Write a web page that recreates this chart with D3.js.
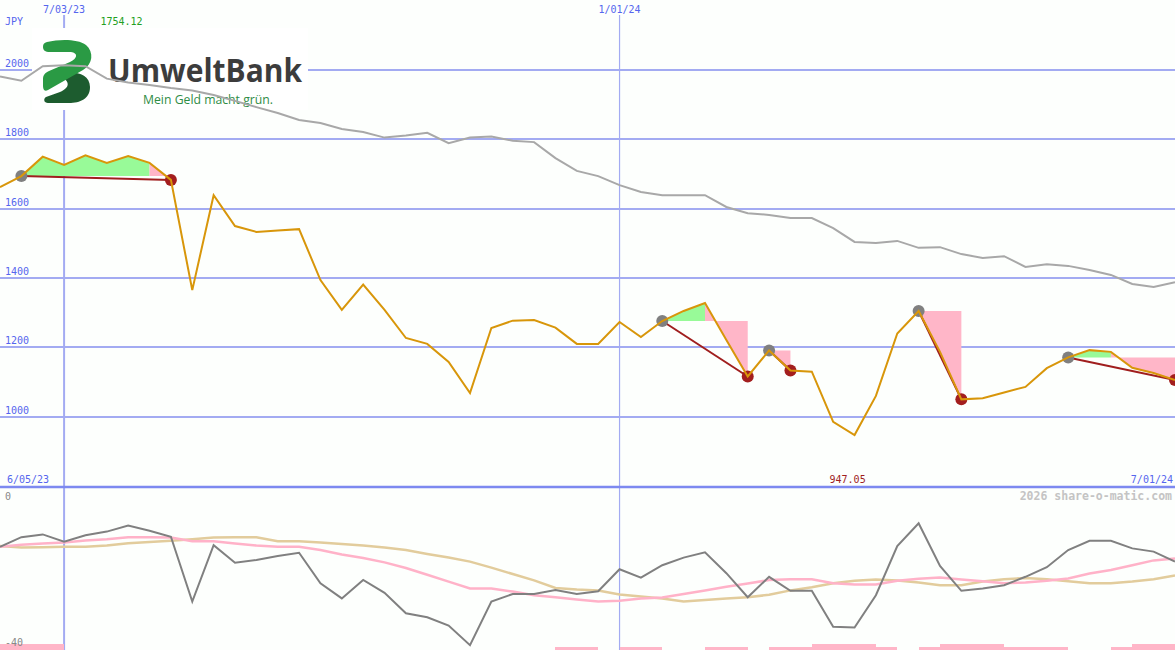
<!DOCTYPE html>
<html><head><meta charset="utf-8">
<script src="https://cdn.jsdelivr.net/npm/d3@7"></script>
<style>body{margin:0;background:#fdfffd;overflow:hidden} svg{display:block}</style>
</head><body><svg id="c" width="1175" height="650"></svg>
<script>
// ---------- data ----------
const dates = ["2023-06-12","2023-06-19","2023-06-26","2023-07-03","2023-07-10","2023-07-17","2023-07-24","2023-07-31","2023-08-07","2023-08-14",
"2023-08-21","2023-08-28","2023-09-04","2023-09-11","2023-09-18","2023-09-25","2023-10-02","2023-10-09","2023-10-16","2023-10-23",
"2023-10-30","2023-11-06","2023-11-13","2023-11-20","2023-11-27","2023-12-04","2023-12-11","2023-12-18","2023-12-25","2024-01-01",
"2024-01-08","2024-01-15","2024-01-22","2024-01-29","2024-02-05","2024-02-12","2024-02-19","2024-02-26","2024-03-04","2024-03-11",
"2024-03-18","2024-03-25","2024-04-01","2024-04-08","2024-04-15","2024-04-22","2024-04-29","2024-05-06","2024-05-13","2024-05-20",
"2024-05-27","2024-06-03","2024-06-10","2024-06-17","2024-06-24","2024-07-01"];
const rangeStartLabel = "2023-06-05";
const dateMarks = ["2023-07-03","2024-01-01"];
const priceTicks = [1000,1200,1400,1600,1800,2000];
const lowTicks = [0,-40];
const currency = "JPY";

const price = [1662,1694,1750,1726,1754.12,1732,1752,1732,1683,1365,
1639,1550,1533,1537,1541,1394,1308,1381,1308,1227,
1210,1158,1068,1256,1277,1279,1257,1210,1210,1273,
1230,1276,1305,1328,1221,1116,1191,1133,1130,985,
947.05,1060,1240,1305,1187,1050,1053,1070,1086,1140,
1171,1192,1187,1141,1126,1106];

const benchmark = [1981,1969,2011,2014,2011,1975,1964,1957,1948,1941,
1928,1911,1893,1876,1856,1847,1830,1821,1805,1811,
1819,1789,1805,1808,1796,1792,1746,1709,1694,1668,
1648,1639,1639,1639,1605,1587,1582,1573,1573,1544,
1504,1501,1507,1487,1489,1469,1458,1463,1432,1440,
1435,1423,1409,1383,1374,1388];

const momentum = [-14.7,-12.3,-11.6,-13.4,-11.8,-10.9,-9.4,-10.7,-12.2,-28.4,
-14.3,-18.7,-18,-17,-16.2,-23.8,-27.6,-23,-26.2,-31.3,
-32.3,-34.4,-39.3,-28.4,-26.5,-26.5,-25.5,-26.5,-25.8,-20.3,
-22.4,-19.3,-17.4,-16.1,-21.3,-27.3,-22.2,-25.7,-25.7,-34.7,
-34.9,-26.8,-14.5,-8.8,-19.5,-25.7,-25.1,-24.3,-22.2,-19.8,
-15.5,-13.2,-13.2,-15.1,-15.9,-18.4];

const avgFast = [-14.7,-14.2,-13.9,-13.6,-13.1,-12.8,-12.3,-12.3,-12.4,-13.3,
-13.3,-13.9,-14.4,-14.7,-14.7,-15.5,-16.6,-17.5,-18.6,-20,
-21.7,-23.4,-25.1,-25.1,-25.9,-26.8,-27.3,-27.9,-28.4,-28.2,
-27.6,-27.4,-26.5,-25.6,-24.7,-23.9,-23,-22.8,-22.8,-23.8,
-24.1,-24.1,-23.2,-22.7,-22.4,-22.9,-23.3,-23.8,-23.6,-23.2,
-22.6,-21.4,-20.5,-19.3,-18.1,-17.6];

const avgSlow = [-14.5,-14.9,-14.8,-14.7,-14.7,-14.4,-13.8,-13.5,-13.2,-12.8,
-12.4,-12.3,-12.3,-13.3,-13.3,-13.6,-14,-14.4,-14.9,-15.5,
-16.5,-17.4,-18.4,-19.9,-21.5,-23.1,-25,-25.4,-25.6,-26.6,
-27.1,-27.6,-28.4,-28,-27.6,-27.3,-26.7,-25.6,-24.8,-23.8,
-23.2,-22.9,-23.1,-23.6,-24.3,-24.3,-23.4,-22.8,-22.5,-22.8,
-23.3,-23.8,-23.8,-23.4,-22.8,-21.9];

const signalBars = [2,2,2,0,0,0,0,0,0,0, 0,0,0,0,0,0,0,0,0,0,
0,0,0,0,0,0,1,1,0,1, 1,0,0,1,1,0,1,1,2,2,
2,1,0,1,2,2,2,1,1,1, 0,0,1,2,2,0];

// trades: entry index, last index still above entry, exit index
const tradeEntry = [1,31,36,43,50];
const tradePeak  = [7,33,36,43,52];
const tradeExit  = [8,35,37,45,55];

// ---------- drawing ----------
const W = 1175, H = 650;
const svg = d3.select("#c");
const parse = d3.utcParse("%Y-%m-%d");
const fmt = d3.utcFormat("%-m/%d/%y");
const t = dates.map(parse);
const x = d3.scaleUtc().domain(d3.extent(t)).range([0, W]);
const yTop = d3.scaleLinear().domain([1000, 2000]).range([416.7, 70]);
const yLow = d3.scaleLinear().domain([-40, 0]).range([648, 488]);
const yBar = d3.scaleLinear().domain([0, 2]).range([650, 644]);
const mono = "'DejaVu Sans Mono', monospace";
const blue = "#5566ee";

svg.append("rect").attr("width", W).attr("height", H).attr("fill", "#fdfffd");

// gridlines
svg.append("g").selectAll("line").data(priceTicks).join("line")
  .attr("x1", 0).attr("x2", W)
  .attr("y1", d => yTop(d)).attr("y2", d => yTop(d))
  .attr("stroke", "#a3abf2").attr("stroke-width", 2).attr("shape-rendering", "crispEdges");

// vertical date lines
svg.append("g").selectAll("line").data(dateMarks).join("line")
  .attr("x1", d => x(parse(d))).attr("x2", d => x(parse(d)))
  .attr("y1", 15).attr("y2", H)
  .attr("stroke", "#a3abf2").attr("stroke-width", (d, i) => i === 0 ? 2 : 1.2);

// panel divider
svg.append("line").attr("x1", 0).attr("x2", W).attr("y1", 487).attr("y2", 487)
  .attr("stroke", "#7d89f0").attr("stroke-width", 2.6);

// logo
const logo = svg.append("g");
logo.append("rect").attr("x", 32).attr("y", 28).attr("width", 276).attr("height", 82).attr("fill", "#ffffff");
logo.append("path").attr("fill", "#1d5c2f")
  .attr("d", "M56,75 C70,70 90,72 90,87 C90,99 80,103 69,103 L48,103 C44,103 43,99 46,97 L60,92 C70,88 72,80 56,75 Z");
logo.append("path").attr("fill", "#2a9a44")
  .attr("d", "M47,42 C60,39 78,39 86,45 C94,52 93,64 83,70 L62,82 L48,90 C44,92 43,89 43,85 L43,79 C43,75 45,73 49,71 L70,62 C78,58 78,53 71,52 L50,52 C45,52 43,50 43,47 C43,44 44,43 47,42 Z");
logo.append("text").attr("x", 108).attr("y", 82).text("UmweltBank")
  .attr("font-family", "'Open Sans', sans-serif").attr("font-weight", 700).attr("font-size", 32)
  .attr("fill", "#3c3c3c").attr("textLength", 194).attr("lengthAdjust", "spacingAndGlyphs");
logo.append("text").attr("x", 143).attr("y", 104).text("Mein Geld macht grün.")
  .attr("font-family", "'Open Sans', sans-serif").attr("font-weight", 500).attr("font-size", 12.5)
  .attr("fill", "#2f8c45").attr("textLength", 130).attr("lengthAdjust", "spacingAndGlyphs");

// benchmark line
svg.append("path").datum(benchmark)
  .attr("d", d3.line().x((d, i) => x(t[i])).y(d => yTop(d)))
  .attr("fill", "none").attr("stroke", "#a8a8a8").attr("stroke-width", 2);

// trade fills
const idx = (a, b) => d3.range(a, b + 1);
const area = (lvl) => d3.area().x(i => x(t[i])).y0(yTop(lvl)).y1(i => yTop(price[i]));
tradeEntry.forEach((e, k) => {
  const lvl = price[e];
  if (tradePeak[k] > e)
    svg.append("path").datum(idx(e, tradePeak[k])).attr("d", area(lvl)).attr("fill", "#98fa98");
  svg.append("path").datum(idx(tradePeak[k], tradeExit[k])).attr("d", area(lvl)).attr("fill", "#ffb6c8");
});
// trade lines
svg.append("g").selectAll("line").data(tradeEntry).join("line")
  .attr("x1", e => x(t[e])).attr("y1", e => yTop(price[e]))
  .attr("x2", (e, k) => x(t[tradeExit[k]])).attr("y2", (e, k) => yTop(price[tradeExit[k]]))
  .attr("stroke", "#a01e1e").attr("stroke-width", 2);
// dots
svg.append("g").selectAll("circle").data(tradeEntry).join("circle")
  .attr("cx", e => x(t[e])).attr("cy", e => yTop(price[e])).attr("r", 6).attr("fill", "#808080");
svg.append("g").selectAll("circle").data(tradeExit).join("circle")
  .attr("cx", e => x(t[e])).attr("cy", e => yTop(price[e])).attr("r", 6).attr("fill", "#a31e1e");

// price line
svg.append("path").datum(price)
  .attr("d", d3.line().x((d, i) => x(t[i])).y(d => yTop(d)))
  .attr("fill", "none").attr("stroke", "#d8960a").attr("stroke-width", 2);

// lower panel bars
const step = x(t[1]) - x(t[0]);
svg.append("g").selectAll("rect").data(signalBars).join("rect")
  .attr("x", (d, i) => x(t[i])).attr("width", step)
  .attr("y", d => yBar(d)).attr("height", d => yBar(0) - yBar(d))
  .attr("fill", "#ffb6c8").attr("shape-rendering", "crispEdges");

// lower panel lines
const lowLine = d3.line().x((d, i) => x(t[i])).y(d => yLow(d));
svg.append("path").datum(avgSlow).attr("d", lowLine).attr("fill", "none").attr("stroke", "#e2cc9c").attr("stroke-width", 2.5);
svg.append("path").datum(avgFast).attr("d", lowLine).attr("fill", "none").attr("stroke", "#ffb2c8").attr("stroke-width", 2.5);
svg.append("path").datum(momentum).attr("d", lowLine).attr("fill", "none").attr("stroke", "#808080").attr("stroke-width", 2);

// texts
const txt = (xx, yy, s, fill, anchor) => svg.append("text").attr("x", xx).attr("y", yy).text(s)
  .attr("font-family", mono).attr("font-size", 10).attr("fill", fill).attr("text-anchor", anchor || "start");
txt(5, 25, currency, blue);
priceTicks.forEach(v => txt(5, yTop(v) - 3, String(v), blue));
dateMarks.forEach(d => txt(x(parse(d)), 12.5, fmt(parse(d)), blue, "middle"));
txt(7, 483, fmt(parse(rangeStartLabel)), blue);
txt(W - 2, 483, fmt(t[t.length - 1]), blue, "end");
const iMax = d3.maxIndex(price), iMin = d3.minIndex(price);
txt(x(t[iMax]) + 15, 25, d3.format(".2f")(price[iMax]), "#22a022");
txt(x(t[iMin]) - 25, 483, d3.format(".2f")(price[iMin]), "#a01e1e");
txt(5, 500, String(lowTicks[0]), "#888888");
txt(5, 646, String(lowTicks[1]), "#888888");
svg.append("text").attr("x", W - 3).attr("y", 500).text("2026 share-o-matic.com")
  .attr("font-family", mono).attr("font-size", 11.5).attr("font-weight", "bold")
  .attr("fill", "#c4c4c4").attr("text-anchor", "end");
</script></body></html>
